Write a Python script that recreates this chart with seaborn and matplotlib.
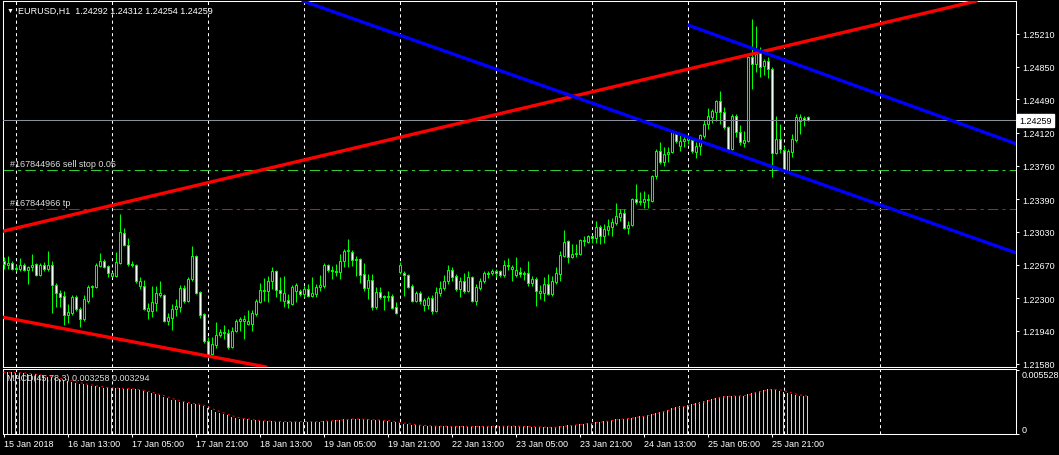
import numpy as np
import pandas as pd
import matplotlib
matplotlib.use("Agg")
import matplotlib.pyplot as plt
import seaborn as sns

# ---------------- data ----------------
symbol_title = "EURUSD,H1  1.24292 1.24312 1.24254 1.24259"
macd_title = "MACD(45,78,3) 0.003258 0.003294"

open_ = [
    1.2271, 1.2267, 1.2269, 1.2262, 1.2262, 1.2267, 1.2261, 1.2264,
    1.2268, 1.2256, 1.2267, 1.2262, 1.2267, 1.2245, 1.2236, 1.2233,
    1.2212, 1.2214, 1.2231, 1.2218, 1.2207, 1.2227, 1.2242, 1.2242,
    1.2266, 1.2271, 1.2266, 1.2255, 1.2255, 1.2269, 1.2302, 1.2289,
    1.2268, 1.2267, 1.2244, 1.2244, 1.2216, 1.2216, 1.2225, 1.2234,
    1.2234, 1.2205, 1.2208, 1.2218, 1.2220, 1.2241, 1.2227, 1.2251,
    1.2277, 1.2237, 1.2213, 1.2183, 1.2169, 1.2178, 1.2189, 1.2192,
    1.2192, 1.2176, 1.2194, 1.2205, 1.2205, 1.2202, 1.2202, 1.2213,
    1.2226, 1.2238, 1.2238, 1.2249, 1.2260, 1.2239, 1.2227, 1.2228,
    1.2224, 1.2238, 1.2238, 1.2235, 1.2240, 1.2233, 1.2235, 1.2242,
    1.2244, 1.2267, 1.2261, 1.2260, 1.2259, 1.2271, 1.2282, 1.2281,
    1.2272, 1.2273, 1.2257, 1.2241, 1.2250, 1.2220, 1.2237, 1.2233,
    1.2231, 1.2233, 1.2220, 1.2259, 1.2258, 1.2256, 1.2244, 1.2227,
    1.2236, 1.2223, 1.2223, 1.2230, 1.2216, 1.2236, 1.2241, 1.2249,
    1.2261, 1.2255, 1.2240, 1.2249, 1.2238, 1.2253, 1.2227, 1.2241,
    1.2249, 1.2258, 1.2258, 1.2260, 1.2260, 1.2256, 1.2267, 1.2262,
    1.2256, 1.2259, 1.2257, 1.2258, 1.2247, 1.2251, 1.2236, 1.2236,
    1.2246, 1.2235, 1.2248, 1.2257, 1.2277, 1.2293, 1.2275, 1.2279,
    1.2279, 1.2293, 1.2292, 1.2298, 1.2296, 1.2309, 1.2299, 1.2305,
    1.2309, 1.2313, 1.2320, 1.2324, 1.2307, 1.2311, 1.2339, 1.2336,
    1.2336, 1.2339, 1.2337, 1.2365, 1.2392, 1.2380, 1.2389, 1.2391,
    1.2411, 1.2398, 1.2403, 1.2404, 1.2404, 1.2391, 1.2398, 1.2409,
    1.2422, 1.2430, 1.2435, 1.2447, 1.2435, 1.2419, 1.2394, 1.2431,
    1.2413, 1.2401, 1.2403, 1.2496, 1.2488, 1.2500, 1.2486, 1.2491,
    1.2482, 1.2390, 1.2405, 1.2393, 1.2370, 1.2391, 1.2404, 1.2425,
    1.2429, 1.24292]

high_ = [
    1.2275, 1.2277, 1.2271, 1.2267, 1.2274, 1.2269, 1.2266, 1.2279,
    1.2269, 1.2269, 1.2270, 1.2282, 1.2271, 1.2247, 1.2239, 1.2238,
    1.2224, 1.2234, 1.2234, 1.2220, 1.2234, 1.2245, 1.2245, 1.2269,
    1.2280, 1.2273, 1.2267, 1.2259, 1.2281, 1.2323, 1.2307, 1.2296,
    1.2271, 1.2268, 1.2253, 1.2250, 1.2225, 1.2244, 1.2244, 1.2249,
    1.2235, 1.2214, 1.2224, 1.2229, 1.2245, 1.2245, 1.2253, 1.2288,
    1.2278, 1.2238, 1.2214, 1.2187, 1.2187, 1.2204, 1.2196, 1.2201,
    1.2196, 1.2198, 1.2207, 1.2209, 1.2212, 1.2217, 1.2217, 1.2229,
    1.2247, 1.2252, 1.2255, 1.2264, 1.2261, 1.2253, 1.2255, 1.2235,
    1.2245, 1.2247, 1.2240, 1.2244, 1.2246, 1.2253, 1.2246, 1.2256,
    1.2269, 1.2268, 1.2266, 1.2268, 1.2279, 1.2284, 1.2295, 1.2283,
    1.2277, 1.2274, 1.2269, 1.2257, 1.2257, 1.2242, 1.2242, 1.2234,
    1.2238, 1.2235, 1.2226, 1.2270, 1.2260, 1.2257, 1.2246, 1.2238,
    1.2238, 1.2230, 1.2233, 1.2234, 1.2242, 1.2249, 1.2256, 1.2267,
    1.2264, 1.2257, 1.2253, 1.2258, 1.2260, 1.2255, 1.2246, 1.2252,
    1.2260, 1.2260, 1.2262, 1.2262, 1.2261, 1.2272, 1.2274, 1.2267,
    1.2275, 1.2264, 1.2260, 1.2271, 1.2255, 1.2253, 1.2245, 1.2253,
    1.2257, 1.2255, 1.2264, 1.2282, 1.2305, 1.2294, 1.2290, 1.2290,
    1.2295, 1.2298, 1.2300, 1.2300, 1.2315, 1.2311, 1.2312, 1.2317,
    1.2318, 1.2335, 1.2328, 1.2328, 1.2315, 1.2340, 1.2356, 1.2347,
    1.2348, 1.2345, 1.2366, 1.2394, 1.2402, 1.2397, 1.2397, 1.2414,
    1.2414, 1.2410, 1.2409, 1.2410, 1.2407, 1.2402, 1.2411, 1.2426,
    1.2440, 1.2438, 1.2448, 1.2458, 1.2441, 1.2420, 1.2433, 1.2433,
    1.2421, 1.2414, 1.2497, 1.2538, 1.2530, 1.2507, 1.2493, 1.2496,
    1.2485, 1.2431, 1.2422, 1.2398, 1.2394, 1.2411, 1.2433, 1.2433,
    1.2431, 1.24312]

low_ = [
    1.2262, 1.2262, 1.2261, 1.2260, 1.2260, 1.2260, 1.2246, 1.2260,
    1.2255, 1.2255, 1.2260, 1.2260, 1.2214, 1.2220, 1.2220, 1.2200,
    1.2203, 1.2212, 1.2216, 1.2198, 1.2205, 1.2225, 1.2231, 1.2241,
    1.2264, 1.2263, 1.2253, 1.2253, 1.2253, 1.2268, 1.2287, 1.2266,
    1.2264, 1.2247, 1.2240, 1.2217, 1.2207, 1.2209, 1.2216, 1.2231,
    1.2204, 1.2200, 1.2195, 1.2211, 1.2215, 1.2225, 1.2226, 1.2249,
    1.2235, 1.2208, 1.2181, 1.2165, 1.2168, 1.2175, 1.2187, 1.2185,
    1.2174, 1.2175, 1.2193, 1.2194, 1.2185, 1.2200, 1.2194, 1.2211,
    1.2225, 1.2227, 1.2226, 1.2240, 1.2231, 1.2227, 1.2220, 1.2219,
    1.2223, 1.2226, 1.2233, 1.2231, 1.2231, 1.2231, 1.2231, 1.2238,
    1.2241, 1.2259, 1.2251, 1.2255, 1.2251, 1.2264, 1.2264, 1.2266,
    1.2255, 1.2247, 1.2238, 1.2229, 1.2217, 1.2218, 1.2229, 1.2217,
    1.2227, 1.2218, 1.2213, 1.2257, 1.2233, 1.2241, 1.2226, 1.2226,
    1.2224, 1.2216, 1.2218, 1.2213, 1.2215, 1.2233, 1.2239, 1.2246,
    1.2249, 1.2238, 1.2231, 1.2236, 1.2237, 1.2226, 1.2223, 1.2239,
    1.2247, 1.2252, 1.2256, 1.2253, 1.2253, 1.2253, 1.2261, 1.2249,
    1.2253, 1.2253, 1.2250, 1.2244, 1.2244, 1.2222, 1.2229, 1.2227,
    1.2234, 1.2233, 1.2246, 1.2249, 1.2275, 1.2269, 1.2274, 1.2275,
    1.2278, 1.2287, 1.2291, 1.2291, 1.2291, 1.2290, 1.2291, 1.2300,
    1.2299, 1.2311, 1.2315, 1.2306, 1.2301, 1.2310, 1.2334, 1.2333,
    1.2329, 1.2329, 1.2336, 1.2361, 1.2378, 1.2376, 1.2380, 1.2390,
    1.2401, 1.2392, 1.2397, 1.2400, 1.2390, 1.2384, 1.2388, 1.2407,
    1.2416, 1.2423, 1.2425, 1.2422, 1.2416, 1.2392, 1.2393, 1.2408,
    1.2399, 1.2396, 1.2402, 1.2460, 1.2479, 1.2474, 1.2476, 1.2473,
    1.2364, 1.2389, 1.2390, 1.2370, 1.2369, 1.2386, 1.2402, 1.2411,
    1.2420, 1.24254]

close_ = [
    1.2268, 1.2269, 1.2262, 1.2263, 1.2267, 1.2261, 1.2264, 1.2267,
    1.2256, 1.2267, 1.2262, 1.2267, 1.2245, 1.2236, 1.2231, 1.2212,
    1.2215, 1.2231, 1.2218, 1.2207, 1.2229, 1.2242, 1.2244, 1.2267,
    1.2271, 1.2264, 1.2258, 1.2258, 1.2270, 1.2303, 1.2289, 1.2268,
    1.2267, 1.2249, 1.2249, 1.2218, 1.2219, 1.2226, 1.2236, 1.2236,
    1.2205, 1.2209, 1.2218, 1.2222, 1.2241, 1.2227, 1.2251, 1.2277,
    1.2236, 1.2212, 1.2183, 1.2168, 1.2180, 1.2190, 1.2193, 1.2193,
    1.2176, 1.2194, 1.2205, 1.2207, 1.2207, 1.2205, 1.2214, 1.2227,
    1.2239, 1.2239, 1.2249, 1.2260, 1.2239, 1.2236, 1.2236, 1.2225,
    1.2242, 1.2245, 1.2235, 1.2240, 1.2233, 1.2236, 1.2242, 1.2245,
    1.2267, 1.2261, 1.2260, 1.2259, 1.2271, 1.2282, 1.2283, 1.2272,
    1.2273, 1.2256, 1.2241, 1.2250, 1.2220, 1.2237, 1.2231, 1.2231,
    1.2233, 1.2219, 1.2214, 1.2267, 1.2256, 1.2242, 1.2227, 1.2236,
    1.2227, 1.2228, 1.2230, 1.2216, 1.2237, 1.2241, 1.2249, 1.2261,
    1.2253, 1.2240, 1.2249, 1.2238, 1.2253, 1.2227, 1.2242, 1.2249,
    1.2258, 1.2257, 1.2260, 1.2258, 1.2256, 1.2267, 1.2266, 1.2264,
    1.2261, 1.2257, 1.2258, 1.2247, 1.2251, 1.2238, 1.2238, 1.2246,
    1.2235, 1.2249, 1.2258, 1.2278, 1.2292, 1.2275, 1.2279, 1.2280,
    1.2294, 1.2294, 1.2299, 1.2296, 1.2309, 1.2299, 1.2306, 1.2310,
    1.2314, 1.2321, 1.2324, 1.2307, 1.2311, 1.2339, 1.2336, 1.2337,
    1.2339, 1.2338, 1.2365, 1.2392, 1.2380, 1.2389, 1.2391, 1.2413,
    1.2403, 1.2403, 1.2405, 1.2407, 1.2392, 1.2398, 1.2410, 1.2422,
    1.2431, 1.2436, 1.2447, 1.2435, 1.2419, 1.2394, 1.2431, 1.2413,
    1.2402, 1.2404, 1.2496, 1.2488, 1.2499, 1.2485, 1.2491, 1.2482,
    1.2390, 1.2405, 1.2394, 1.2371, 1.2392, 1.2405, 1.2430, 1.2430,
    1.2426, 1.24259]

macd_main = [
    0.00533, 0.00533, 0.00532, 0.00530, 0.00528, 0.00525, 0.00522, 0.00518,
    0.00512, 0.00506, 0.00502, 0.00497, 0.00490, 0.00484, 0.00476, 0.00469,
    0.00461, 0.00452, 0.00444, 0.00436, 0.00430, 0.00424, 0.00418, 0.00412,
    0.00406, 0.00402, 0.00399, 0.00396, 0.00398, 0.00396, 0.00393, 0.00391,
    0.00389, 0.00385, 0.00380, 0.00372, 0.00362, 0.00352, 0.00343, 0.00334,
    0.00322, 0.00308, 0.00298, 0.00290, 0.00280, 0.00273, 0.00267, 0.00262,
    0.00258, 0.00252, 0.00240, 0.00222, 0.00206, 0.00194, 0.00183, 0.00172,
    0.00160, 0.00148, 0.00140, 0.00134, 0.00130, 0.00126, 0.00121, 0.00117,
    0.00114, 0.00112, 0.00110, 0.00109, 0.00108, 0.00108, 0.00107, 0.00106,
    0.00107, 0.00107, 0.00108, 0.00108, 0.00107, 0.00106, 0.00107, 0.00108,
    0.00112, 0.00114, 0.00115, 0.00118, 0.00122, 0.00126, 0.00130, 0.00131,
    0.00130, 0.00128, 0.00126, 0.00126, 0.00122, 0.00120, 0.00118, 0.00116,
    0.00113, 0.00108, 0.00100, 0.00096, 0.00090, 0.00085, 0.00080, 0.00077,
    0.00074, 0.00072, 0.00070, 0.00068, 0.00067, 0.00066, 0.00066, 0.00067,
    0.00067, 0.00066, 0.00066, 0.00066, 0.00066, 0.00065, 0.00065, 0.00066,
    0.00067, 0.00067, 0.00068, 0.00068, 0.00068, 0.00069, 0.00069, 0.00068,
    0.00067, 0.00066, 0.00066, 0.00065, 0.00063, 0.00061, 0.00059, 0.00058,
    0.00058, 0.00058, 0.00061, 0.00066, 0.00071, 0.00074, 0.00077, 0.00080,
    0.00085, 0.00088, 0.00092, 0.00096, 0.00102, 0.00106, 0.00110, 0.00115,
    0.00121, 0.00126, 0.00131, 0.00133, 0.00136, 0.00141, 0.00148, 0.00153,
    0.00158, 0.00162, 0.00172, 0.00185, 0.00193, 0.00202, 0.00210, 0.00222,
    0.00230, 0.00238, 0.00245, 0.00252, 0.00258, 0.00266, 0.00275, 0.00286,
    0.00296, 0.00304, 0.00314, 0.00322, 0.00326, 0.00326, 0.00330, 0.00331,
    0.00330, 0.00330, 0.00345, 0.00356, 0.00365, 0.00372, 0.00380, 0.00385,
    0.00389, 0.00382, 0.00375, 0.00366, 0.00356, 0.00345, 0.00338, 0.00332,
    0.00328, 0.003258]

time_labels = ["15 Jan 2018", "16 Jan 13:00", "17 Jan 05:00", "17 Jan 21:00",
               "18 Jan 13:00", "19 Jan 05:00", "19 Jan 21:00", "22 Jan 13:00",
               "23 Jan 05:00", "23 Jan 21:00", "24 Jan 13:00", "25 Jan 05:00",
               "25 Jan 21:00"]
price_ticks = [1.25210, 1.24850, 1.24490, 1.24120, 1.23760, 1.23390,
               1.23030, 1.22670, 1.22300, 1.21940, 1.21580]
macd_ticks = [0.0, 0.005528]
macd_tick_labels = ["0", "0.005528"]

last_price = 1.24259
sell_stop_price = 1.2371
tp_price = 1.2328
order_labels = ["#167844966 sell stop 0.05", "#167844966 tp"]

# trend-line anchors (bar index, price)
red_upper = [(0, 1.2304), (168, 1.2479)]
red_lower = [(0, 1.2209), (42, 1.2174)]
blue_long = [(149, 1.2442), (203, 1.2358)]
blue_short = [(171, 1.2531), (203, 1.2480)]

# ---------------- layout / style ----------------
W, H = 1059, 456
LIME = "#00ff00"
BAR_EVERY = 16
DAY_START_BARS = [3, 27, 51, 75, 99, 123, 147, 171, 195, 219]
FS = 6.5

sns.set_theme(style="dark", rc={
    "figure.facecolor": "black", "axes.facecolor": "black",
    "axes.edgecolor": "white", "text.color": "white",
    "xtick.color": "white", "ytick.color": "white",
    "axes.grid": False, "axes.linewidth": 0.75,
})
plt.rcParams["font.family"] = ["Liberation Sans", "DejaVu Sans"]

df = pd.DataFrame({"open": open_, "high": high_, "low": low_,
                   "close": close_, "macd": macd_main})
df["bar"] = np.arange(len(df))
df["signal"] = df["macd"].rolling(3, min_periods=1).mean()

fig = plt.figure(figsize=(W / 100, H / 100), dpi=100, facecolor="black")


def box(x0, y0, x1, y1):
    return [x0 / W, 1 - y1 / H, (x1 - x0) / W, (y1 - y0) / H]


ax = fig.add_axes(box(3, 2, 1016, 368))
axm = fig.add_axes(box(3, 370, 1016, 435))

XLIM = (-0.125, 253.125)
YLIM = (1.21543, 1.25573)

for a in (ax, axm):
    a.set_facecolor("black")
    for s in a.spines.values():
        s.set_color("white")
        s.set_linewidth(0.75)
    for b in DAY_START_BARS:
        a.axvline(b, color="white", lw=0.75, ls=(0, (3, 3)), zorder=1)

# ---- candles ----
bull = df["close"] >= df["open"]
ax.vlines(df["bar"], df["low"], df["high"], colors=LIME, linewidth=0.75,
          zorder=3)
body_lo = np.minimum(df["open"], df["close"])
body_h = (df["close"] - df["open"]).abs()
ax.bar(df["bar"], body_h, bottom=body_lo, width=0.5,
       color=np.where(bull, "black", "white"), edgecolor=LIME,
       linewidth=0.75, zorder=4)

# ---- horizontal order lines and price line ----
ax.axhline(sell_stop_price, color="#32cd32", lw=0.75, ls=(0, (10, 4, 3, 4)), zorder=2)
ax.axhline(tp_price, color="#ff0000", lw=0.75, ls=(0, (10, 4, 3, 4)), zorder=2)
ax.axhline(last_price, color="#8a9099", lw=0.75, zorder=5)
for txt, p in zip(order_labels, [sell_stop_price, tp_price]):
    ax.annotate(txt, xy=(0, p), xycoords=ax.get_yaxis_transform(),
                xytext=(5, 4.6), textcoords="offset points", ha="left",
                va="center", fontsize=FS, color="#dcdcdc", zorder=6)

# ---- trend lines ----
ax.axline(red_upper[0], red_upper[1], color="#ff0000", lw=2.4, zorder=6)
ax.axline(red_lower[0], red_lower[1], color="#ff0000", lw=2.4, zorder=6)
ax.axline(blue_long[0], blue_long[1], color="#0000ff", lw=2.4, zorder=6)
(t1, p1), (t2, p2) = blue_short
slope = (p2 - p1) / (t2 - t1)
t_end = XLIM[1] + 10
ax.plot([t1, t_end], [p1, p1 + slope * (t_end - t1)], color="#0000ff",
        lw=2.4, zorder=6, solid_capstyle="butt")

ax.set_xlim(*XLIM)
ax.set_ylim(*YLIM)
ax.yaxis.tick_right()
ax.set_yticks(price_ticks, labels=[f"{p:.5f}" for p in price_ticks])
ax.tick_params(axis="y", direction="out", length=2.4, width=0.75,
               labelsize=FS, pad=2, colors="white", right=True, left=False)
ax.tick_params(axis="x", bottom=False, labelbottom=False)
ax.set_xlabel("")
ax.set_ylabel("")

ax.annotate(f"{last_price:.5f}", xy=(1, last_price),
            xycoords=ax.get_yaxis_transform(), xytext=(2.6, 0),
            textcoords="offset points", ha="left", va="center",
            fontsize=FS, color="black", annotation_clip=False, zorder=10,
            bbox=dict(boxstyle="square,pad=0.25", fc="white", ec="white"))

# ---- MACD panel ----
sns.barplot(x=df["bar"], y=df["macd"], native_scale=True, orient="x",
            width=0.35, color="#d0d0d0", saturation=1, errorbar=None,
            linewidth=0, ax=axm, zorder=2)
axm.plot(df["bar"], df["signal"], color="#ff0000", lw=0.75,
         ls=(0, (2, 3)), zorder=3)
axm.set_xlim(*XLIM)
axm.set_ylim(0, 0.00562)
axm.yaxis.tick_right()
axm.set_yticks(macd_ticks, labels=macd_tick_labels)
for t, va in zip(axm.get_yticklabels(), ["bottom", "top"]):
    t.set_verticalalignment(va)
axm.tick_params(axis="y", direction="out", length=2.4, width=0.75,
                labelsize=FS, pad=2, colors="white", right=True, left=False)
axm.set_xticks(df["bar"].iloc[::BAR_EVERY], labels=time_labels)
for t in axm.get_xticklabels():
    t.set_horizontalalignment("left")
axm.tick_params(axis="x", direction="out", length=2.4, width=0.75,
                labelsize=FS, pad=1.5, colors="white", bottom=True)
axm.set_xlabel("")
axm.set_ylabel("")

# ---- header texts ----
fig.text(7 / W, 1 - 11 / H, "\u25bc", fontsize=5, color="white",
         va="center", ha="left")
fig.text(18 / W, 1 - 11 / H, symbol_title, fontsize=FS, color="white",
         va="center", ha="left")
fig.text(7 / W, 1 - 379 / H, macd_title, fontsize=FS, color="#dcdcdc",
         va="center", ha="left")

fig.savefig("out.png", dpi=100, facecolor="black")
